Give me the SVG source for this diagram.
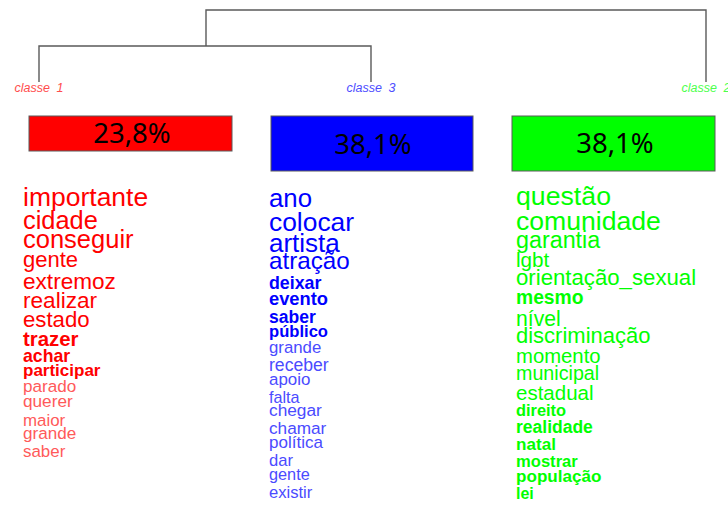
<svg xmlns="http://www.w3.org/2000/svg" width="728" height="505" viewBox="0 0 728 505">
<style>
.bg{fill:#ffffff}
.den{fill:none;stroke:#5a5a5a;stroke-width:1.4}
.lab{font-family:"Liberation Sans",Arial,sans-serif;font-style:italic;font-size:12.5px;word-spacing:3px;text-anchor:middle}
.box{stroke:#5a5a5a;stroke-width:1}
.pct{font-family:"Noto Sans","Open Sans",sans-serif;font-size:27.5px;fill:#000000;text-anchor:middle}
.w{font-family:"Liberation Sans",Arial,sans-serif}
.b{font-weight:bold}
.r{fill:#ff0000}.rl{fill:#ff5a5a}
.bl{fill:#0000ff}.bll{fill:#4b4bff}
.g{fill:#00ff00}
</style>
<rect class="bg" x="0" y="0" width="728" height="505"/>
<g id="connectors">
<path class="den" d="M206,82 M206,46 V10 H706 V82"/>
<path class="den" d="M39,82 V46 H371 V82"/>
</g>
<g id="classe1">
<text class="lab" x="39" y="92" fill="#ff4d4d">classe 1</text>
<rect class="box" x="29" y="116" width="203" height="35" fill="#ff0000"/>
<text class="pct" x="132" y="143">23,8%</text>
<g class="w">
<text class="r" x="23" y="205.7" font-size="26.5">importante</text>
<text class="r" x="23" y="229" font-size="25.4">cidade</text>
<text class="r" x="23" y="247.7" font-size="25.5">conseguir</text>
<text class="r" x="23" y="266.7" font-size="22">gente</text>
<text class="r" x="23" y="289" font-size="22.6">extremoz</text>
<text class="r" x="23" y="308" font-size="22.6">realizar</text>
<text class="r" x="23" y="326.7" font-size="22.2">estado</text>
<text class="r b" x="23" y="345.7" font-size="20.4">trazer</text>
<text class="r b" x="23" y="361.7" font-size="17.7">achar</text>
<text class="r b" x="23" y="376" font-size="17">participar</text>
<text class="rl" x="23" y="391.7" font-size="17.1">parado</text>
<text class="rl" x="23" y="406.7" font-size="17.2">querer</text>
<text class="rl" x="23" y="426" font-size="16.9">maior</text>
<text class="rl" x="23" y="439.3" font-size="17.1">grande</text>
<text class="rl" x="23" y="457" font-size="16.9">saber</text>
</g>
</g>
<g id="classe3">
<text class="lab" x="371" y="92" fill="#4d4dff">classe 3</text>
<rect class="box" x="271" y="116" width="202" height="55" fill="#0000ff"/>
<text class="pct" x="373" y="154">38,1%</text>
<g class="w">
<text class="bl" x="269" y="206.7" font-size="25.8">ano</text>
<text class="bl" x="269" y="230.7" font-size="26.4">colocar</text>
<text class="bl" x="269" y="251.7" font-size="26">artista</text>
<text class="bl" x="269" y="269.3" font-size="24.2">atração</text>
<text class="bl b" x="269" y="289" font-size="17.8">deixar</text>
<text class="bl b" x="269" y="305" font-size="18.3">evento</text>
<text class="bl b" x="269" y="322.7" font-size="17.5">saber</text>
<text class="bl b" x="269" y="337.3" font-size="16.6">público</text>
<text class="bll" x="269" y="353.3" font-size="16.8">grande</text>
<text class="bll" x="269" y="371" font-size="17.6">receber</text>
<text class="bll" x="269" y="385" font-size="16.9">apoio</text>
<text class="bll" x="269" y="402.7" font-size="16.2">falta</text>
<text class="bll" x="269" y="416" font-size="17.3">chegar</text>
<text class="bll" x="269" y="434.3" font-size="17.2">chamar</text>
<text class="bll" x="269" y="448.3" font-size="17">política</text>
<text class="bll" x="269" y="466" font-size="16.6">dar</text>
<text class="bll" x="269" y="480" font-size="16.3">gente</text>
<text class="bll" x="269" y="497.7" font-size="16.6">existir</text>
</g>
</g>
<g id="classe2">
<text class="lab" x="706" y="92" fill="#4dff4d">classe 2</text>
<rect class="box" x="512" y="116" width="203" height="55" fill="#00ff00"/>
<text class="pct" x="615" y="153">38,1%</text>
<g class="w g">
<text x="516" y="205" font-size="26.7">questão</text>
<text x="516" y="230" font-size="26.6">comunidade</text>
<text x="516" y="248.3" font-size="23.3">garantia</text>
<text x="516" y="266.7" font-size="20.7">lgbt</text>
<text x="516" y="285" font-size="22.2">orientação_sexual</text>
<text class="b" x="516" y="304" font-size="19.3">mesmo</text>
<text x="516" y="326" font-size="21.2">nível</text>
<text x="516" y="342.7" font-size="22">discriminação</text>
<text x="516" y="363.3" font-size="20.3">momento</text>
<text x="516" y="380" font-size="19.7">municipal</text>
<text x="516" y="400" font-size="20.5">estadual</text>
<text class="b" x="516" y="416" font-size="16.4">direito</text>
<text class="b" x="516" y="432.7" font-size="17.5">realidade</text>
<text class="b" x="516" y="450" font-size="17.1">natal</text>
<text class="b" x="516" y="466.7" font-size="16.6">mostrar</text>
<text class="b" x="516" y="481.7" font-size="17.1">população</text>
<text class="b" x="516" y="499" font-size="16">lei</text>
</g>
</g>
</svg>
